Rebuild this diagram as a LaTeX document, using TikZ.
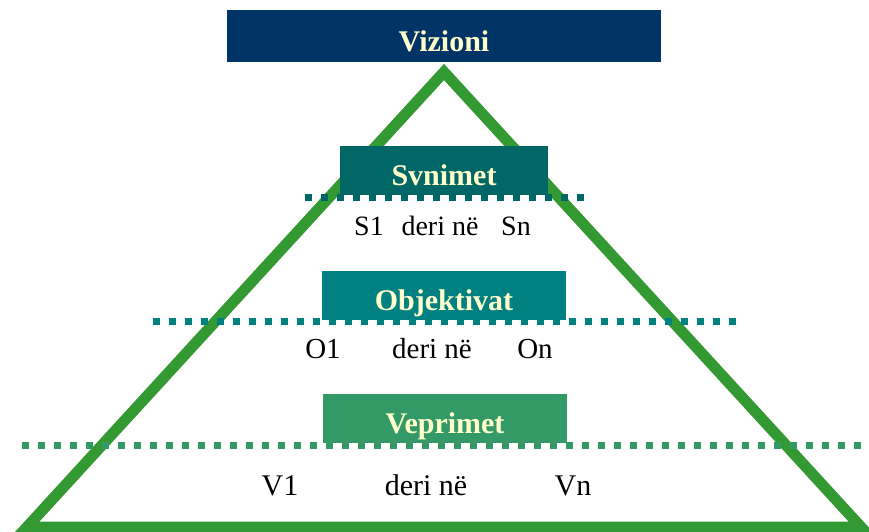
\documentclass[tikz,border=0pt]{standalone}
\usepackage{fontspec}
\setmainfont{Liberation Serif}
\definecolor{vizblue}{HTML}{003366}
\definecolor{synteal}{HTML}{006666}
\definecolor{objteal}{HTML}{008080}
\definecolor{vepgreen}{HTML}{339966}
\definecolor{pyrgreen}{HTML}{339933}
\definecolor{boxtext}{HTML}{FFFFCC}
\begin{document}
\begin{tikzpicture}[x=1pt, y=-1pt,
  levelbox/.style={anchor=base, inner sep=0pt, text depth=10pt, text height=39pt,
    text=boxtext, font=\fontsize{30}{36}\selectfont\bfseries},
  dotline/.style={line width=7pt, dash pattern=on 7pt off 9pt},
  rowtext/.style={anchor=base, inner sep=0pt}]
  \useasboundingbox (0,0) rectangle (869,532);
  % pyramid
  \coordinate (left) at (27,527);
  \coordinate (apex) at (444,72);
  \coordinate (right) at (861,527);
  \draw[pyrgreen, line width=11pt, line join=miter] (left) -- (apex) -- (right) -- cycle;
  % level boxes
  \node[levelbox, fill=vizblue, minimum width=434pt, text height=42pt] (vizioni) at (444,52) {Vizioni};
  \node[levelbox, fill=synteal, minimum width=208pt] (synimet) at (444,185) {Svnimet};
  \node[levelbox, fill=objteal, minimum width=244pt] (objektivat) at (444,310) {Objektivat};
  \node[levelbox, fill=vepgreen, minimum width=244pt] (veprimet) at (445,433) {Veprimet};
  % dotted separators
  \draw[dotline, synteal] (305,197) -- (585,197);
  \draw[dotline, objteal] (153,321) -- (737,321);
  \draw[dotline, vepgreen] (22,445) -- (869,445);
  % ranges
  \begin{scope}[font=\fontsize{28}{32}\selectfont]
    \node[rowtext] (s1) at (369,235) {S1};
    \node[rowtext] (sderi) at (440,235) {deri në};
    \node[rowtext] (sn) at (516,235) {Sn};
  \end{scope}
  \begin{scope}[font=\fontsize{29}{33}\selectfont]
    \node[rowtext] (o1) at (323,358) {O1};
    \node[rowtext] (oderi) at (432,358) {deri në};
    \node[rowtext] (on) at (535,358) {On};
  \end{scope}
  \begin{scope}[font=\fontsize{30}{34}\selectfont]
    \node[rowtext] (v1) at (280,495) {V1};
    \node[rowtext] (vderi) at (426,495) {deri në};
    \node[rowtext] (vn) at (573,495) {Vn};
  \end{scope}
\end{tikzpicture}
\end{document}
